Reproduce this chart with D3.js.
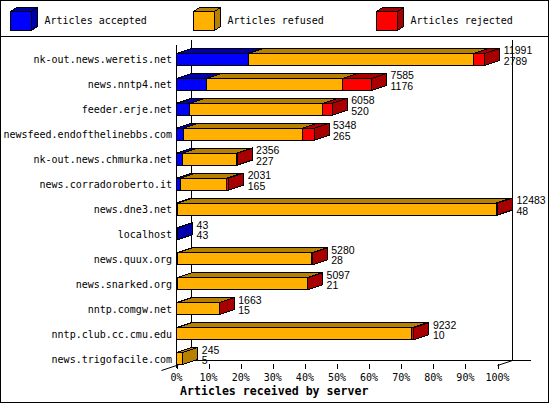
<!DOCTYPE html>
<html>
<head>
<meta charset="utf-8">
<script src="https://cdn.jsdelivr.net/npm/d3@7"></script>
<style>
  body { margin: 0; background: #fff; }
  svg { display: block; }
</style>
</head>
<body>
<script>
// ---- data ----
const categories = [
  "nk-out.news.weretis.net", "news.nntp4.net", "feeder.erje.net",
  "newsfeed.endofthelinebbs.com", "nk-out.news.chmurka.net",
  "news.corradoroberto.it", "news.dne3.net", "localhost",
  "news.quux.org", "news.snarked.org", "nntp.comgw.net",
  "nntp.club.cc.cmu.edu", "news.trigofacile.com"
];
const totals   = [11991, 7585, 6058, 5348, 2356, 2031, 12483, 43, 5280, 5097, 1663, 9232, 245];
const accepted = [2789, 1176, 520, 265, 227, 165, 48, 43, 28, 21, 15, 10, 5];
const refused  = [8772, 5289, 5168, 4643, 2099, 1786, 12395, 0, 5222, 5066, 1643, 9142, 240];
const rejected = [430, 1120, 370, 440, 30, 80, 40, 0, 30, 10, 5, 80, 0];
const seriesNames = ["Articles accepted", "Articles refused", "Articles rejected"];
const tickValues = [0, 10, 20, 30, 40, 50, 60, 70, 80, 90, 100];
const xTitle = "Articles received by server";

// ---- styles ----
const frontColors = ["#0000ff", "#ffb000", "#ff0000"];
const darkColors  = ["#0000a8", "#b88000", "#a80000"];
const MONO = "'DejaVu Sans Mono', 'Liberation Mono', monospace";
const SANS = "'Liberation Sans', Arial, sans-serif";

const W = 550, Hgt = 405;
const svg = d3.select("body").append("svg").attr("width", W).attr("height", Hgt);

svg.append("rect").attr("x", 0.5).attr("y", 0.5).attr("width", 548).attr("height", 402)
  .attr("fill", "#fff").attr("stroke", "#000");
svg.append("line").attr("x1", 0).attr("x2", 549).attr("y1", 36.5).attr("y2", 36.5)
  .attr("stroke", "#000").attr("shape-rendering", "crispEdges");

// ---- legend ----
const LDX = 6, LDY = 4;
seriesNames.forEach((name, k) => {
  const lx = 10.5 + k * 183, ly = 11.5, lw = 21, lh = 19;
  const g = svg.append("g").attr("shape-rendering", "crispEdges");
  g.append("polygon")
    .attr("points", [[lx, ly], [lx + lw, ly], [lx + lw + LDX, ly - LDY], [lx + LDX, ly - LDY]].join(" "))
    .attr("fill", darkColors[k]).attr("stroke", "#000");
  g.append("polygon")
    .attr("points", [[lx + lw, ly], [lx + lw + LDX, ly - LDY], [lx + lw + LDX, ly + lh - LDY], [lx + lw, ly + lh]].join(" "))
    .attr("fill", darkColors[k]).attr("stroke", "#000");
  g.append("rect").attr("x", lx).attr("y", ly).attr("width", lw).attr("height", lh)
    .attr("fill", frontColors[k]).attr("stroke", "#000");
  svg.append("text").attr("x", lx + 34).attr("y", 23.5)
    .attr("font-family", MONO).attr("font-size", "10px").attr("fill", "#000")
    .text(name);
});

// ---- scales ----
const maxTotal = d3.max(totals);
const x = d3.scaleLinear().domain([0, 100]).range([176.5, 497.5]);
const y = d3.scaleBand().domain(categories).range([47, 371]);
const DX = 15, DY = 5, HH = 6;
const pct = v => v / maxTotal * 100;

const axes = svg.append("g").attr("stroke", "#000").attr("shape-rendering", "crispEdges");
const x0 = x(0), x100 = x(100);
const backY = 360.5;
// back walls
axes.append("line").attr("x1", x0 + DX).attr("x2", x0 + DX).attr("y1", 40).attr("y2", backY);
axes.append("line").attr("x1", x100 + DX).attr("x2", x100 + DX).attr("y1", 40).attr("y2", backY);
// floor back edge
axes.append("line").attr("x1", x0 + DX).attr("x2", x100 + DX + 18).attr("y1", backY).attr("y2", backY);
// diagonals
axes.append("line").attr("x1", x0 - 15).attr("y1", backY + 10).attr("x2", x0 + DX).attr("y2", backY)
  .attr("shape-rendering", "auto").attr("stroke-width", 1);
axes.append("line").attr("x1", x100).attr("y1", backY + DY).attr("x2", x100 + DX).attr("y2", backY)
  .attr("shape-rendering", "auto");
// front left axis
axes.append("line").attr("x1", x0).attr("x2", x0).attr("y1", 45).attr("y2", 368);
// ticks
tickValues.forEach(t => {
  axes.append("line").attr("x1", Math.round(x(t)) + 0.5).attr("x2", Math.round(x(t)) + 0.5)
    .attr("y1", 364).attr("y2", 368.5);
});

// ---- bars ----
const barsG = svg.append("g").attr("shape-rendering", "crispEdges");
categories.forEach((cat, i) => {
  const c = y(cat) + y.bandwidth() / 2;
  const segs = [accepted[i], refused[i], rejected[i]];
  let cum = 0, lastK = -1, lastEnd = x(0);
  const fronts = [];
  segs.forEach((v, k) => {
    if (v <= 0) return;
    const xa = x(pct(cum)), xb = x(pct(cum + v));
    cum += v;
    fronts.push([xa, xb, k]);
    lastK = k; lastEnd = xb;
  });
  fronts.forEach(([xa, xb, k]) => {
    barsG.append("polygon")
      .attr("points", [[xa, c - HH], [xb, c - HH], [xb + DX, c - HH - DY], [xa + DX, c - HH - DY]].join(" "))
      .attr("fill", darkColors[k]).attr("stroke", "#000");
  });
  if (lastK >= 0) {
    barsG.append("polygon")
      .attr("points", [[lastEnd, c - HH], [lastEnd + DX, c - HH - DY], [lastEnd + DX, c + HH - DY], [lastEnd, c + HH]].join(" "))
      .attr("fill", darkColors[lastK]).attr("stroke", "#000");
  }
  fronts.forEach(([xa, xb, k]) => {
    barsG.append("rect").attr("x", xa).attr("y", c - HH).attr("width", Math.max(0, xb - xa)).attr("height", 2 * HH)
      .attr("fill", frontColors[k]).attr("stroke", "#000");
  });
  // value labels
  const lx = lastEnd + DX + 4;
  svg.append("text").attr("x", lx).attr("y", c - 5)
    .attr("font-family", SANS).attr("font-size", "10.5px").attr("fill", "#000").text(totals[i]);
  svg.append("text").attr("x", lx).attr("y", c + 5.5)
    .attr("font-family", SANS).attr("font-size", "10.5px").attr("fill", "#000").text(accepted[i]);
  // category label
  svg.append("text").attr("x", 172).attr("y", c + 4).attr("text-anchor", "end")
    .attr("font-family", MONO).attr("font-size", "10px").attr("fill", "#000").text(cat);
});

// ---- tick labels & title ----
tickValues.forEach(t => {
  svg.append("text").attr("x", x(t)).attr("y", 381).attr("text-anchor", "middle")
    .attr("font-family", MONO).attr("font-size", "10px").attr("fill", "#000").text(t + "%");
});
svg.append("text").attr("x", 180).attr("y", 395)
  .attr("font-family", MONO).attr("font-size", "11.6px").attr("font-weight", "bold")
  .attr("fill", "#000").text(xTitle);
</script>
</body>
</html>
